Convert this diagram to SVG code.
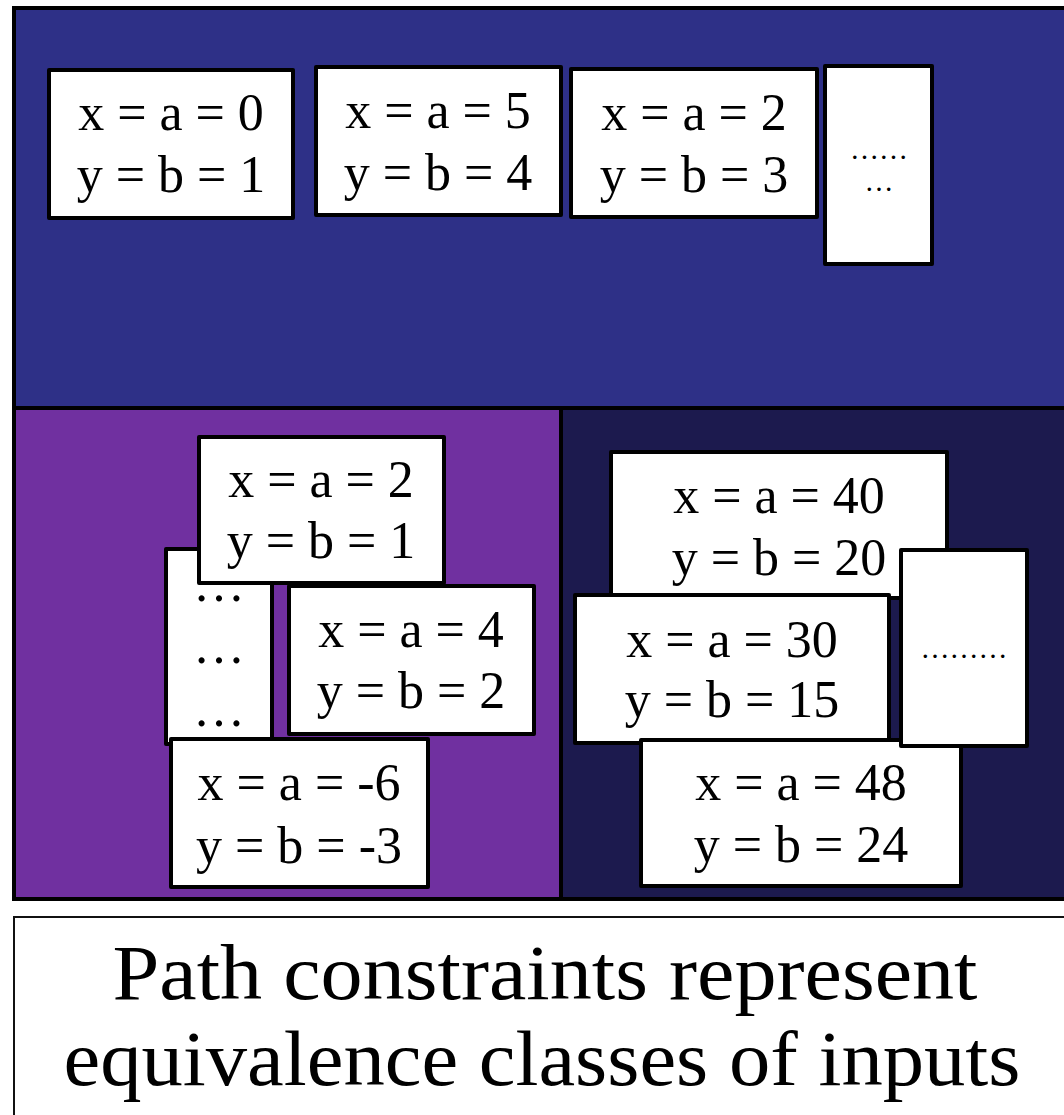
<svg xmlns="http://www.w3.org/2000/svg" width="1064" height="1115" viewBox="0 0 1064 1115">
<style>
.panel{stroke:#000;stroke-width:4}
.box{fill:#fff;stroke:#000;stroke-width:4;stroke-linejoin:round}
.t{font-family:"Liberation Serif","Times New Roman",serif;font-size:52px;fill:#000;text-anchor:middle}
.d{font-family:"Liberation Serif","Times New Roman",serif;font-size:29px;fill:#000;text-anchor:middle}
.cap{font-family:"Liberation Serif","Times New Roman",serif;font-size:78px;fill:#000;text-anchor:middle}
</style>
<rect width="1064" height="1115" fill="#fff"/>
<g id="panel-top"><rect class="panel" x="14" y="8" width="1060" height="400" fill="#2E3087"/></g>
<g id="panel-purple"><rect class="panel" x="14" y="408" width="547" height="491" fill="#7030A0"/></g>
<g id="panel-dark"><rect class="panel" x="561" y="408" width="510" height="491" fill="#1C1A4E"/></g>
<g id="connectors"/>
<g id="n1"><rect class="box" x="49" y="70" width="244" height="148"/><text class="t" x="171" y="130">x = a = 0</text><text class="t" x="171" y="192">y = b = 1</text></g>
<g id="n2"><rect class="box" x="316" y="67" width="245" height="148"/><text class="t" x="438" y="128">x = a = 5</text><text class="t" x="438" y="190">y = b = 4</text></g>
<g id="n3"><rect class="box" x="571" y="69" width="246" height="148"/><text class="t" x="694" y="130">x = a = 2</text><text class="t" x="694" y="192">y = b = 3</text></g>
<g id="n4"><rect class="box" x="825" y="66" width="107" height="198"/><text class="d" x="879" y="159">……</text><text class="d" x="879" y="191">…</text></g>
<g id="nB"><rect class="box" x="166" y="549" width="106" height="195"/><text class="t" x="219" y="601">…</text><text class="t" x="219" y="663">…</text><text class="t" x="219" y="726">…</text></g>
<g id="nA"><rect class="box" x="199" y="437" width="245" height="146"/><text class="t" x="321" y="497">x = a = 2</text><text class="t" x="321" y="558">y = b = 1</text></g>
<g id="nC"><rect class="box" x="289" y="586" width="245" height="148"/><text class="t" x="411" y="647">x = a = 4</text><text class="t" x="411" y="708">y = b = 2</text></g>
<g id="nD"><rect class="box" x="171" y="739" width="257" height="148"/><text class="t" x="299" y="800">x = a = -6</text><text class="t" x="299" y="863">y = b = -3</text></g>
<g id="nE"><rect class="box" x="611" y="452" width="336" height="146"/><text class="t" x="779" y="513">x = a = 40</text><text class="t" x="779" y="575">y = b = 20</text></g>
<g id="nF"><rect class="box" x="575" y="595" width="314" height="148"/><text class="t" x="732" y="657">x = a = 30</text><text class="t" x="732" y="717">y = b = 15</text></g>
<g id="nH"><rect class="box" x="641" y="740" width="320" height="146"/><text class="t" x="801" y="800">x = a = 48</text><text class="t" x="801" y="862">y = b = 24</text></g>
<g id="nG"><rect class="box" x="901" y="550" width="126" height="196"/><text class="d" x="964" y="658">………</text></g>
<g id="caption"><rect x="14" y="917" width="1060" height="210" fill="#fff" stroke="#111" stroke-width="2"/>
<text class="cap" x="545" y="999" textLength="865" lengthAdjust="spacingAndGlyphs">Path constraints represent</text>
<text class="cap" x="542" y="1085" textLength="957" lengthAdjust="spacingAndGlyphs">equivalence classes of inputs</text></g>
</svg>
